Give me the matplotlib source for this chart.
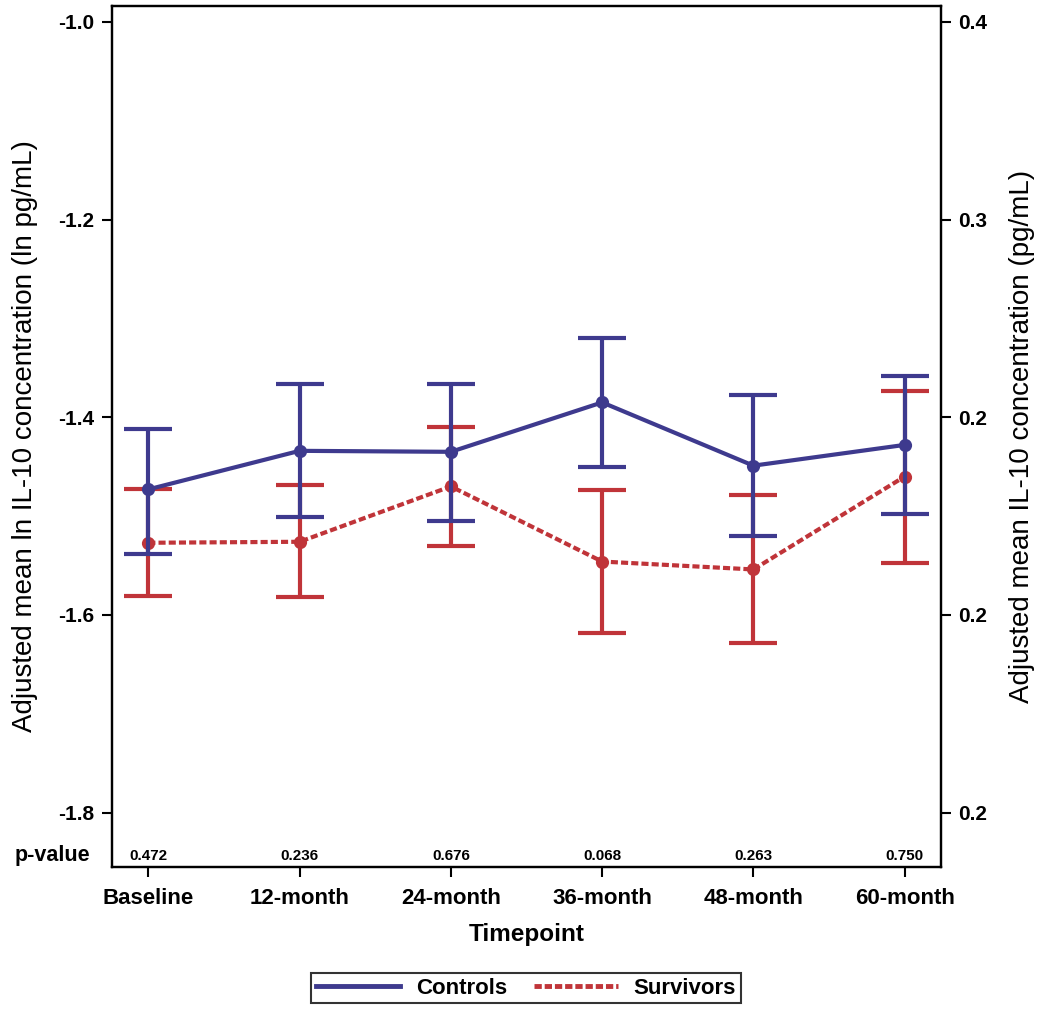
import numpy as np
import matplotlib
matplotlib.use("Agg")
import matplotlib.pyplot as plt
from matplotlib.lines import Line2D

plt.rcParams['font.family'] = ['Liberation Sans', 'DejaVu Sans']
plt.rcParams['font.weight'] = 'bold'

timepoints = ["Baseline", "12-month", "24-month", "36-month", "48-month", "60-month"]
p_values = ["0.472", "0.236", "0.676", "0.068", "0.263", "0.750"]

controls_mean = [-1.473, -1.434, -1.435, -1.385, -1.449, -1.428]
controls_upper = [-1.412, -1.366, -1.366, -1.320, -1.378, -1.358]
controls_lower = [-1.538, -1.501, -1.505, -1.450, -1.520, -1.498]

survivors_mean = [-1.527, -1.526, -1.470, -1.546, -1.554, -1.460]
survivors_upper = [-1.473, -1.469, -1.410, -1.474, -1.479, -1.373]
survivors_lower = [-1.581, -1.582, -1.530, -1.618, -1.628, -1.547]

left_ticks = [-1.0, -1.2, -1.4, -1.6, -1.8]

blue = '#3e3a8e'
red = '#c03439'
dash = (0, (1.7, 0.75))

W, H = 1050, 1009
fig = plt.figure(figsize=(W / 100, H / 100), dpi=100)
ax = fig.add_axes([112 / W, 1 - 867 / H, (941 - 112) / W, (867 - 6) / H])

x = np.arange(len(timepoints))

def draw(mean, lo, hi, color, ls, z):
    m = np.array(mean)
    yerr = np.vstack([m - np.array(lo), np.array(hi) - m])
    ax.errorbar(x, m, yerr=yerr, fmt='none', ecolor=color, elinewidth=3.0,
                capsize=17.3, capthick=3.0, zorder=z)
    ax.plot(x, m, color=color, lw=3.0, ls=ls, marker='o', ms=9.5,
            markeredgewidth=0, zorder=z + 1)

draw(survivors_mean, survivors_lower, survivors_upper, red, dash, 2)
draw(controls_mean, controls_lower, controls_upper, blue, '-', 4)

ax.set_xlim(-0.24, 5.24)
ax.set_ylim(-1.855, -0.984)
ax.set_xticks(x)
ax.set_xticklabels(timepoints, fontsize=16, fontweight='bold')
ax.set_yticks(left_ticks)
ax.set_yticklabels([f"{v:.1f}" for v in left_ticks], fontsize=15, fontweight='bold')
ax.tick_params(axis='x', length=7, width=1.5, direction='out', pad=8)
ax.tick_params(axis='y', length=7, width=1.5, direction='out', pad=6)
for s in ax.spines.values():
    s.set_linewidth(1.6)

ax.set_xlabel("Timepoint", fontsize=17.5, fontweight='bold', labelpad=10)
ax.set_ylabel("Adjusted mean ln IL-10 concentration (ln pg/mL)", fontsize=20,
              fontweight='normal', labelpad=14)

# p-values row
for xi, p in zip(x, p_values):
    ax.text(xi, -1.8435, p, ha='center', va='center', fontsize=11, fontweight='bold')
ax.text(-0.385, -1.8435, "p-value", ha='right', va='center', fontsize=15.5,
        fontweight='bold', clip_on=False)

ax2 = ax.twinx()
ax2.set_ylim(ax.get_ylim())
ax2.set_yticks(left_ticks)
ax2.set_yticklabels([f"{np.exp(v):.1f}" for v in left_ticks], fontsize=15, fontweight='bold')
ax2.tick_params(axis='y', length=7, width=1.5, direction='out', pad=5)
for s in ax2.spines.values():
    s.set_linewidth(1.6)
ax2.set_ylabel("Adjusted mean IL-10 concentration (pg/mL)", fontsize=20,
               fontweight='normal', labelpad=16)

handles = [Line2D([0], [0], color=blue, lw=3.5, ls='-'),
           Line2D([0], [0], color=red, lw=3.5, ls=(0, (1.5, 0.6)))]
leg = fig.legend(handles, ["Controls", "Survivors"], loc='center',
                 bbox_to_anchor=(526 / W, 1 - 988 / H), ncol=2, frameon=True,
                 fancybox=False, edgecolor='black', handlelength=3.8,
                 columnspacing=1.2, handletextpad=0.7, borderpad=0.2,
                 prop={'weight': 'bold', 'size': 16})
leg.get_frame().set_linewidth(1.5)

fig.savefig("out.png", dpi=100)
